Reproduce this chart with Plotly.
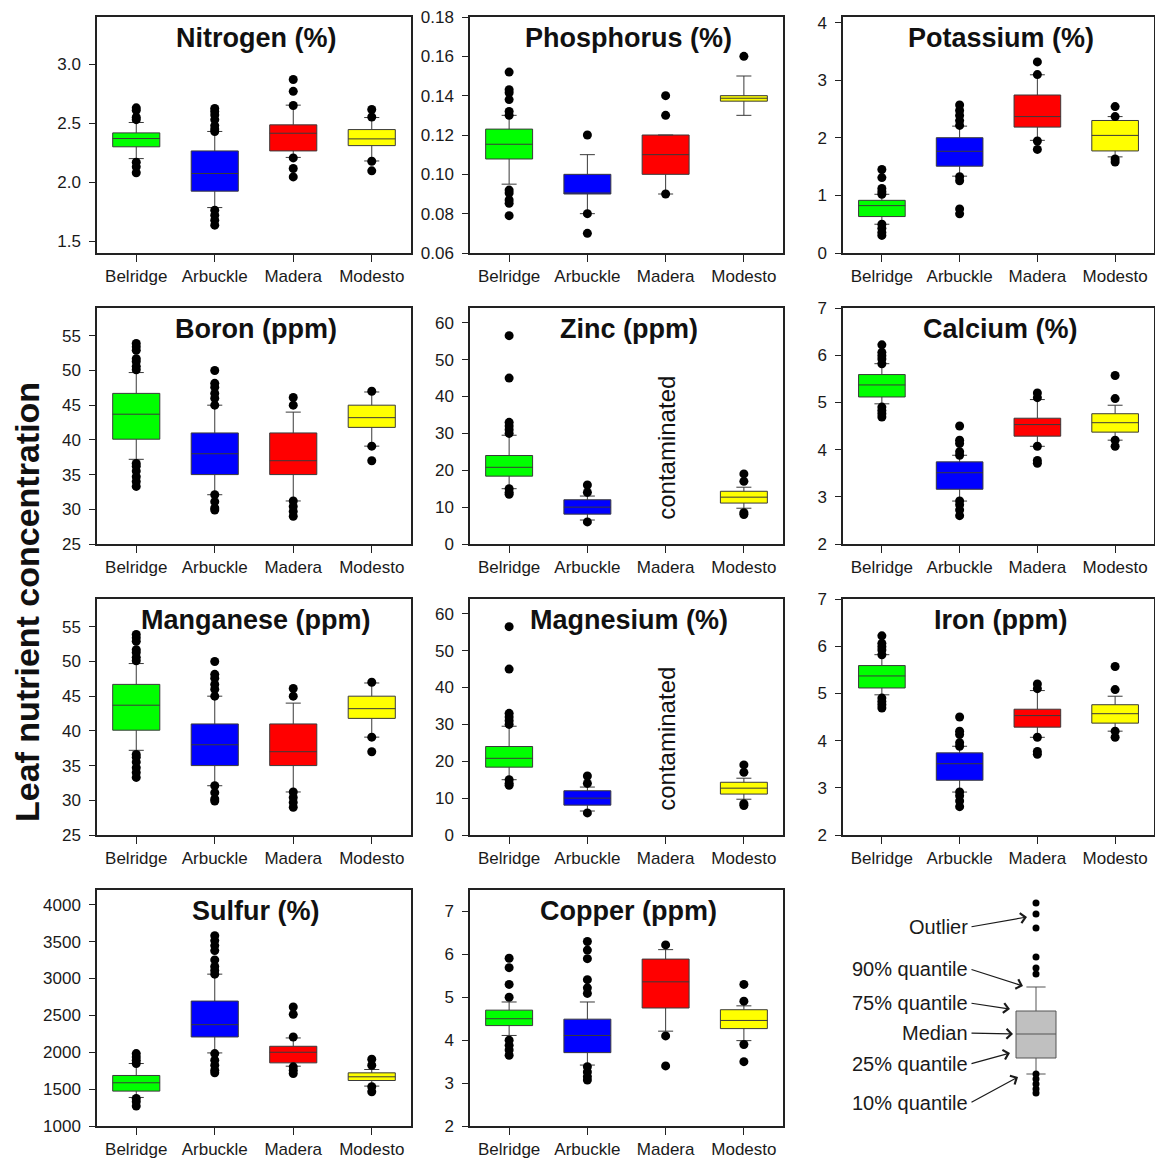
import plotly.graph_objects as go

SITES = ["Belridge", "Arbuckle", "Madera", "Modesto"]
COLORS = ["#00FF00", "#0000FF", "#FF0000", "#FFFF00"]

# ---- data: 10%, 25%, median, 75%, 90% quantiles and outliers per site ----
N_P10 = [2.20, 1.785, 2.21, 2.18]
N_Q1 = [2.30, 1.924, 2.265, 2.31]
N_MED = [2.37, 2.074, 2.415, 2.367]
N_Q3 = [2.418, 2.265, 2.486, 2.446]
N_P90 = [2.506, 2.43, 2.653, 2.548]
N_OUT = [[2.63, 2.61, 2.55, 2.53, 2.17, 2.13, 2.08],
         [2.625, 2.60, 2.57, 2.53, 2.48, 2.45, 2.43, 1.763, 1.72, 1.678, 1.636],
         [2.87, 2.77, 2.65, 2.206, 2.116, 2.045],
         [2.616, 2.553, 2.178, 2.096]]

P_P10 = [0.095, 0.08, 0.09, 0.13]
P_Q1 = [0.1078, 0.09, 0.10, 0.1372]
P_MED = [0.1153, 0.09, 0.11, 0.1387]
P_Q3 = [0.123, 0.10, 0.12, 0.14]
P_P90 = [0.130, 0.11, 0.12, 0.15]
P_OUT = [[0.152, 0.143, 0.1415, 0.138, 0.132, 0.130, 0.092, 0.0905, 0.087, 0.0853, 0.079],
         [0.12, 0.08, 0.07],
         [0.14, 0.13, 0.09],
         [0.16]]

K_P10 = [0.50, 1.335, 1.957, 1.67]
K_Q1 = [0.633, 1.508, 2.187, 1.773]
K_MED = [0.823, 1.767, 2.37, 2.043]
K_Q3 = [0.915, 2.003, 2.745, 2.302]
K_P90 = [1.02, 2.204, 3.096, 2.37]
K_OUT = [[1.45, 1.31, 1.12, 1.065, 1.02, 0.50, 0.43, 0.357, 0.305],
         [2.573, 2.475, 2.39, 2.30, 2.216, 1.324, 1.255, 0.765, 0.68],
         [3.32, 3.10, 1.945, 1.80],
         [2.544, 2.37, 1.635, 1.58]]

B_P10 = [37.2, 32.1, 31.2, 39.1]
B_Q1 = [40.1, 35.0, 35.0, 41.8]
B_MED = [43.7, 38.0, 37.0, 43.2]
B_Q3 = [46.7, 41.0, 41.0, 45.0]
B_P90 = [49.7, 45.0, 44.0, 46.9]
B_OUT = [[53.9, 53.4, 52.9, 51.7, 51.3, 50.6, 50.1, 36.6, 36.2, 35.5, 34.7, 34.0, 33.3],
         [50.0, 48.15, 47.6, 46.7, 46.0, 45.0, 32.1, 31.1, 30.2, 29.9],
         [46.1, 45.0, 31.2, 30.4, 29.7, 29.0],
         [47.0, 39.1, 37.0]]

ZN_P10 = [15.0, 6.5, None, 9.7]
ZN_Q1 = [18.4, 8.1, None, 11.1]
ZN_MED = [20.8, 10.0, None, 12.7]
ZN_Q3 = [24.0, 12.0, None, 14.3]
ZN_P90 = [29.5, 13.0, None, 15.4]
ZN_OUT = [[56.5, 45.0, 33.0, 32.0, 31.0, 30.0, 15.0, 14.0, 13.5],
          [16.0, 14.0, 6.0],
          [],
          [19.0, 17.0, 8.5, 8.0]]

CA_P10 = [4.97, 2.91, 4.07, 4.20]
CA_Q1 = [5.115, 3.16, 4.285, 4.37]
CA_MED = [5.37, 3.51, 4.53, 4.57]
CA_Q3 = [5.59, 3.74, 4.665, 4.76]
CA_P90 = [5.82, 3.88, 5.06, 4.94]
CA_OUT = [[6.22, 6.06, 5.99, 5.92, 5.82, 4.90, 4.83, 4.76, 4.69],
          [4.50, 4.20, 4.13, 3.955, 3.88, 2.91, 2.83, 2.72, 2.60],
          [5.20, 5.10, 4.07, 3.77, 3.71],
          [5.57, 5.08, 4.20, 4.07]]

MN_P10 = [37.2, 32.1, 31.2, 39.1]
MN_Q1 = [40.1, 35.0, 35.0, 41.8]
MN_MED = [43.7, 38.0, 37.0, 43.2]
MN_Q3 = [46.7, 41.0, 41.0, 45.0]
MN_P90 = [49.7, 45.0, 44.0, 46.9]
MN_OUT = [[53.9, 53.4, 52.9, 51.7, 51.3, 50.6, 50.1, 36.6, 36.2, 35.5, 34.7, 34.0, 33.3],
          [50.0, 48.15, 47.6, 46.7, 46.0, 45.0, 32.1, 31.1, 30.2, 29.9],
          [46.1, 45.0, 31.2, 30.4, 29.7, 29.0],
          [47.0, 39.1, 37.0]]

MG_P10 = [15.0, 6.5, None, 9.7]
MG_Q1 = [18.4, 8.1, None, 11.1]
MG_MED = [20.8, 10.0, None, 12.7]
MG_Q3 = [24.0, 12.0, None, 14.3]
MG_P90 = [29.5, 13.0, None, 15.4]
MG_OUT = [[56.5, 45.0, 33.0, 32.0, 31.0, 30.0, 15.0, 14.0, 13.5],
          [16.0, 14.0, 6.0],
          [],
          [19.0, 17.0, 8.5, 8.0]]

FE_P10 = [4.97, 2.91, 4.07, 4.20]
FE_Q1 = [5.115, 3.16, 4.285, 4.37]
FE_MED = [5.37, 3.51, 4.53, 4.57]
FE_Q3 = [5.59, 3.74, 4.665, 4.76]
FE_P90 = [5.82, 3.88, 5.06, 4.94]
FE_OUT = [[6.22, 6.06, 5.99, 5.92, 5.82, 4.90, 4.83, 4.76, 4.69],
          [4.50, 4.20, 4.13, 3.955, 3.88, 2.91, 2.83, 2.72, 2.60],
          [5.20, 5.10, 4.07, 3.77, 3.71],
          [5.57, 5.08, 4.20, 4.07]]

S_P10 = [1387, 1991, 1811, 1541]
S_Q1 = [1473, 2207, 1856, 1617]
S_MED = [1586, 2374, 2000, 1667]
S_Q3 = [1685, 2694, 2081, 1721]
S_P90 = [1847, 3059, 2194, 1766]
S_OUT = [[1982, 1937, 1892, 1847, 1374, 1329, 1270],
         [3581, 3514, 3446, 3378, 3252, 3162, 3108, 3059, 1982, 1892, 1824, 1757, 1721],
         [2613, 2514, 2207, 1802, 1757, 1712],
         [1905, 1824, 1532, 1464]]

CU_P10 = [4.11, 3.42, 4.21, 3.99]
CU_Q1 = [4.34, 3.71, 4.75, 4.27]
CU_MED = [4.50, 4.11, 5.36, 4.46]
CU_Q3 = [4.70, 4.49, 5.89, 4.71]
CU_P90 = [4.89, 4.89, 6.11, 4.80]
CU_OUT = [[5.91, 5.69, 5.30, 5.00, 4.00, 3.88, 3.77, 3.65],
          [6.30, 6.10, 5.90, 5.41, 5.22, 5.09, 3.38, 3.26, 3.15, 3.07],
          [6.22, 4.10, 3.40],
          [5.30, 4.91, 3.90, 3.50]]

# schematic legend example (arbitrary units)
LEGEND_STATS = {"p10": 86, "q1": 102, "med": 126, "q3": 149, "p90": 173}
LEGEND_OUT = [257, 246, 232, 203, 192, 186, 86, 81, 76, 71, 67]

PANELS = [
    ("Nitrogen (%)", N_P10, N_Q1, N_MED, N_Q3, N_P90, N_OUT, [1.4, 3.4], [1.5, 2.0, 2.5, 3.0], ".1f", False),
    ("Phosphorus (%)", P_P10, P_Q1, P_MED, P_Q3, P_P90, P_OUT, [0.06, 0.18], [0.06, 0.08, 0.10, 0.12, 0.14, 0.16, 0.18], ".2f", False),
    ("Potassium (%)", K_P10, K_Q1, K_MED, K_Q3, K_P90, K_OUT, [0, 4.1], [0, 1, 2, 3, 4], "d", False),
    ("Boron (ppm)", B_P10, B_Q1, B_MED, B_Q3, B_P90, B_OUT, [25, 59], [25, 30, 35, 40, 45, 50, 55], "d", False),
    ("Zinc (ppm)", ZN_P10, ZN_Q1, ZN_MED, ZN_Q3, ZN_P90, ZN_OUT, [0, 64], [0, 10, 20, 30, 40, 50, 60], "d", True),
    ("Calcium (%)", CA_P10, CA_Q1, CA_MED, CA_Q3, CA_P90, CA_OUT, [2, 7], [2, 3, 4, 5, 6, 7], "d", False),
    ("Manganese (ppm)", MN_P10, MN_Q1, MN_MED, MN_Q3, MN_P90, MN_OUT, [25, 59], [25, 30, 35, 40, 45, 50, 55], "d", False),
    ("Magnesium (%)", MG_P10, MG_Q1, MG_MED, MG_Q3, MG_P90, MG_OUT, [0, 64], [0, 10, 20, 30, 40, 50, 60], "d", True),
    ("Iron (ppm)", FE_P10, FE_Q1, FE_MED, FE_Q3, FE_P90, FE_OUT, [2, 7], [2, 3, 4, 5, 6, 7], "d", False),
    ("Sulfur (%)", S_P10, S_Q1, S_MED, S_Q3, S_P90, S_OUT, [1000, 4200], [1000, 1500, 2000, 2500, 3000, 3500, 4000], "d", False),
    ("Copper (ppm)", CU_P10, CU_Q1, CU_MED, CU_Q3, CU_P90, CU_OUT, [2, 7.5], [2, 3, 4, 5, 6, 7], "d", False),
]

W, H = 1155, 1160
COLS_PX = [(97, 411), (470, 783), (843, 1154)]
ROWS_PX = [(17, 253), (308, 544), (599, 835), (890, 1126)]
FONT = "Liberation Sans, Arial, sans-serif"

fig = go.Figure()
layout = dict(
    template="none",
    width=W, height=H, margin=dict(l=0, r=0, t=0, b=0, pad=0, autoexpand=False),
    paper_bgcolor="white", plot_bgcolor="white", showlegend=False,
    font=dict(family=FONT, color="#1a1a1a"),
)
annotations = []

for i, (title, p10, q1, med, q3, p90, outs, yr, ytv, fmt, contam) in enumerate(PANELS):
    r, c = divmod(i, 3)
    k = i + 1
    xs = "" if k == 1 else str(k)
    xa, ya = "x" + xs, "y" + xs
    x0, x1 = COLS_PX[c]
    y0, y1 = ROWS_PX[r]
    for j, site in enumerate(SITES):
        if q1[j] is None:
            continue
        fig.add_trace(go.Box(
            x=[site], q1=[q1[j]], median=[med[j]], q3=[q3[j]],
            lowerfence=[p10[j]], upperfence=[p90[j]],
            fillcolor=COLORS[j], line=dict(color="#3a3a3a", width=1),
            width=0.6, whiskerwidth=0.32, boxpoints=False,
            xaxis=xa, yaxis=ya, hoverinfo="skip",
        ))
    ox, oy = [], []
    for j, site in enumerate(SITES):
        for v in outs[j]:
            ox.append(site)
            oy.append(v)
    fig.add_trace(go.Scatter(x=ox, y=oy, mode="markers",
                             marker=dict(color="black", size=9, line=dict(width=0)),
                             xaxis=xa, yaxis=ya, hoverinfo="skip"))
    layout["xaxis" + xs] = dict(
        domain=[x0 / W, x1 / W], anchor=ya, type="category", automargin=False,
        categoryorder="array", categoryarray=SITES, range=[-0.5, 3.5],
        showline=True, linecolor="#222", linewidth=1.5, mirror=True,
        ticks="outside", ticklen=7, tickcolor="#222", tickwidth=1.2,
        ticklabelstandoff=0, showgrid=False, zeroline=False,
        tickfont=dict(size=17, family=FONT, color="#1a1a1a"),
    )
    layout["yaxis" + xs] = dict(
        domain=[1 - y1 / H, 1 - y0 / H], anchor=xa, range=yr, automargin=False,
        tickvals=ytv, tickformat=fmt,
        showline=True, linecolor="#222", linewidth=1.5, mirror=True,
        ticks="outside", ticklen=6, tickcolor="#222", tickwidth=1.2,
        ticklabelstandoff=5, showgrid=False, zeroline=False,
        tickfont=dict(size=17, family=FONT, color="#1a1a1a"),
    )
    annotations.append(dict(
        text="<b>" + title + "</b>", x=(x0 + x1) / 2 / W + 0.002, y=1 - (y0 + 21) / H,
        xref="paper", yref="paper", showarrow=False, xanchor="center", yanchor="middle",
        font=dict(size=27, family=FONT, color="#111"),
    ))
    if contam:
        annotations.append(dict(
            text="contaminated", x="Madera", y=26,
            xref=xa, yref=ya, showarrow=False, textangle=-90,
            font=dict(size=24, family=FONT, color="#111"),
        ))

# ---- schematic legend panel ----
lx, ly = "x12", "y12"
fig.add_trace(go.Box(
    x=[1036], q1=[LEGEND_STATS["q1"]], median=[LEGEND_STATS["med"]], q3=[LEGEND_STATS["q3"]],
    lowerfence=[LEGEND_STATS["p10"]], upperfence=[LEGEND_STATS["p90"]],
    fillcolor="#C0C0C0", line=dict(color="#555", width=1), width=40, whiskerwidth=0.48,
    boxpoints=False, xaxis=lx, yaxis=ly, hoverinfo="skip",
))
fig.add_trace(go.Scatter(x=[1036] * len(LEGEND_OUT), y=LEGEND_OUT, mode="markers",
                         marker=dict(color="black", size=7), xaxis=lx, yaxis=ly, hoverinfo="skip"))
layout["xaxis12"] = dict(domain=[800 / W, 1], anchor=ly, range=[800, 1155], visible=False, automargin=False)
layout["yaxis12"] = dict(domain=[0, 280 / H], anchor=lx, range=[0, 280], visible=False, automargin=False)

LEGEND_LABELS = [
    ("Outlier", 233, 1027, 243),
    ("90% quantile", 191, 1023, 174),
    ("75% quantile", 157, 1010, 151),
    ("Median", 127, 1013, 126),
    ("25% quantile", 96, 1010, 107),
    ("10% quantile", 57, 1018, 83),
]
for lab, ty, hx, hy in LEGEND_LABELS:
    annotations.append(dict(text=lab, x=970, y=ty, xref=lx, yref=ly, showarrow=False,
                            xanchor="right", yanchor="middle",
                            font=dict(size=20, family=FONT, color="#1a1a1a")))
    annotations.append(dict(text="", x=hx, y=hy, ax=970, ay=ty, xref=lx, yref=ly,
                            axref=lx, ayref=ly, showarrow=True, arrowhead=4,
                            arrowsize=1.6, arrowwidth=1.2, arrowcolor="#1a1a1a"))

annotations.append(dict(
    text="<b>Leaf nutrient concentration</b>", x=27 / W, y=1 - 602 / H, xref="paper", yref="paper",
    showarrow=False, textangle=-90, xanchor="center", yanchor="middle",
    font=dict(size=34, family=FONT, color="#111"),
))
layout["annotations"] = annotations
fig.update_layout(**layout)
fig.write_html("out.html")
